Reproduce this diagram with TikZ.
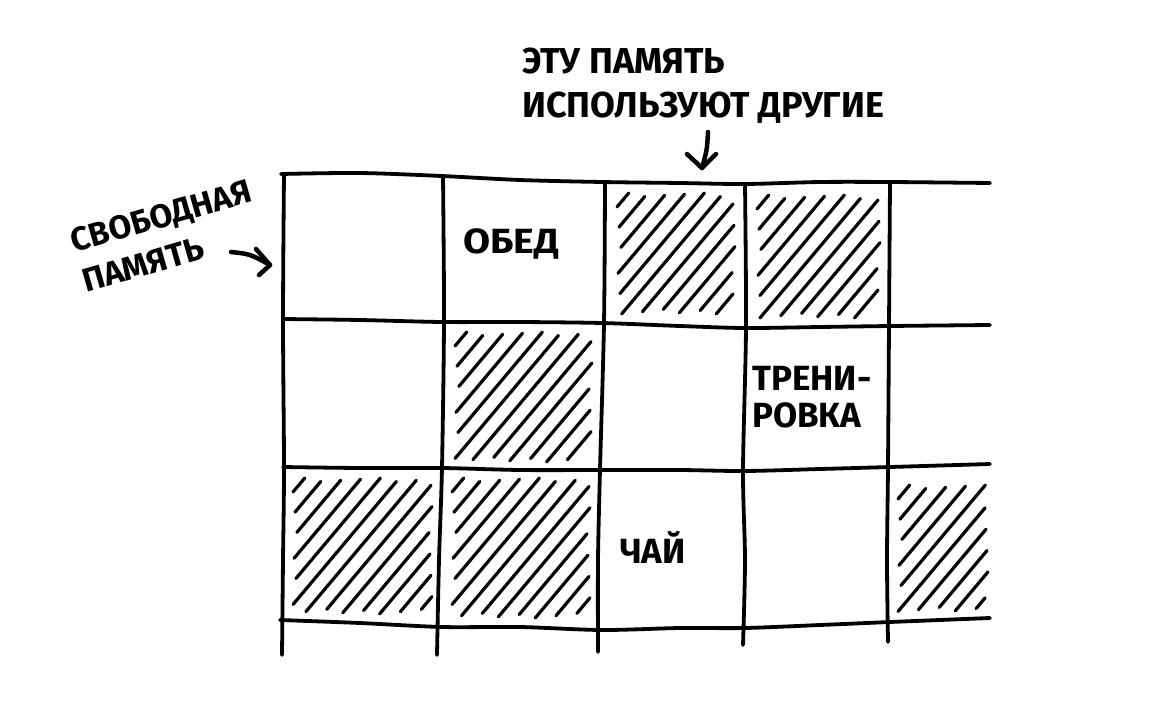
\documentclass[tikz,border=0pt]{standalone}
\usepackage{fontspec}
\setmainfont{Fira Sans}
\tikzset{
  gridline/.style={line width=3.8pt, line cap=round, line join=round},
  hatchline/.style={line width=3.2pt, line cap=round},
  lbl/.style={font=\fontsize{35}{40}\selectfont\bfseries, inner sep=0pt},
  note/.style={font=\fontsize{36}{42}\selectfont\bfseries, inner sep=0pt},
  sidenote/.style={font=\fontsize{33}{42}\selectfont\bfseries, inner sep=0pt},
  pointer/.style={line width=4.5pt, line cap=round, line join=round}
}
% hatch strokes at about 50 degrees inside the box (x1,y1)-(x2,y2), y downwards
\newcommand{\hatchbox}[4]{%
  \foreach \k in {0,...,18} {
    \pgfmathsetmacro{\cc}{1.19*#1+#2+14+22.5*\k}
    \pgfmathsetmacro{\xa}{max(#1,(\cc-#4)/1.19)}
    \pgfmathsetmacro{\xb}{min(#3,(\cc-#2)/1.19)}
    \pgfmathsetmacro{\len}{\xb-\xa}
    \pgfmathsetmacro{\sa}{mod(\k*7,5)*1.5}
    \pgfmathsetmacro{\sb}{mod(\k*3,4)*1.5}
    \ifdim\len pt>8pt
      \draw[hatchline, shorten <=\sa pt, shorten >=\sb pt] (\xa,\cc-1.19*\xa) -- (\xb,\cc-1.19*\xb);
    \fi
  }}
\begin{document}
\begin{tikzpicture}[x=1pt,y=-1pt]
\useasboundingbox (0,0) rectangle (1152,710);
\fill[white] (0,0) rectangle (1152,710);

% hatching
\hatchbox{617}{193}{735}{314}
\hatchbox{757}{195}{880}{318}
\hatchbox{455}{332}{592}{462}
\hatchbox{293}{478}{432}{614}
\hatchbox{452}{478}{590}{618}
\hatchbox{898}{485}{988}{612}

% horizontal grid lines
\draw[gridline] plot[smooth] coordinates {(281,174) (360,173) (442,176) (520,180) (602,182) (680,183) (745,184) (820,182) (890,182) (990,183)};
\draw[gridline] plot[smooth] coordinates {(283,319) (360,320) (442,322) (520,322) (602,323) (680,326) (745,328) (820,327) (890,326) (990,325)};
\draw[gridline] plot[smooth] coordinates {(283,467) (360,468) (442,468) (520,470) (602,470) (680,470) (745,471) (820,469) (890,467) (990,464)};
\draw[gridline] plot[smooth] coordinates {(280,620) (360,623) (442,627) (520,627) (602,630) (680,628) (745,628) (820,625) (890,622) (990,618)};

% vertical grid lines
\draw[gridline] plot[smooth] coordinates {(284,174) (283,320) (284,467) (283,560) (282,655)};
\draw[gridline] plot[smooth] coordinates {(443,176) (444,320) (442,467) (439,560) (437,655)};
\draw[gridline] plot[smooth] coordinates {(605,182) (604,323) (600,470) (598,560) (598,652)};
\draw[gridline] plot[smooth] coordinates {(745,184) (746,328) (743,470) (745,560) (743,645)};
\draw[gridline] plot[smooth] coordinates {(890,182) (889,326) (888,467) (887,560) (888,642)};

% annotations
\node[note, anchor=base west] (t1) at (522,73) {ЭТУ ПАМЯТЬ};
\node[note, anchor=base west] (t2) at (522,117) {ИСПОЛЬЗУЮТ ДРУГИЕ};
\coordinate (ta) at (708,132);
\coordinate (tb) at (702,168);
\coordinate (tl) at (687,154);
\coordinate (tr) at (716,154);
\draw[pointer] (ta) .. controls (707,150) .. (tb);
\draw[pointer] (tl) -- (tb) -- (tr);

\node[sidenote, anchor=base west, rotate=16, align=left] (left) at (86,293) {СВОБОДНАЯ\\ПАМЯТЬ};
\coordinate (la) at (231,252);
\coordinate (lb) at (270,265);
\coordinate (lu) at (256,249);
\coordinate (ld) at (259,275);
\draw[pointer] (la) .. controls (250,254) .. (lb);
\draw[pointer] (lu) -- (lb) -- (ld);

% cell labels
\node[lbl, anchor=base west, xscale=1.12] (c1) at (463,253) {ОБЕД};
\node[lbl, anchor=base west] (c2) at (752,390) {ТРЕНИ-};
\node[lbl, anchor=base west] (c3) at (752,427) {РОВКА};
\node[lbl, anchor=base west] (c4) at (620,563) {ЧАЙ};
\end{tikzpicture}
\end{document}
